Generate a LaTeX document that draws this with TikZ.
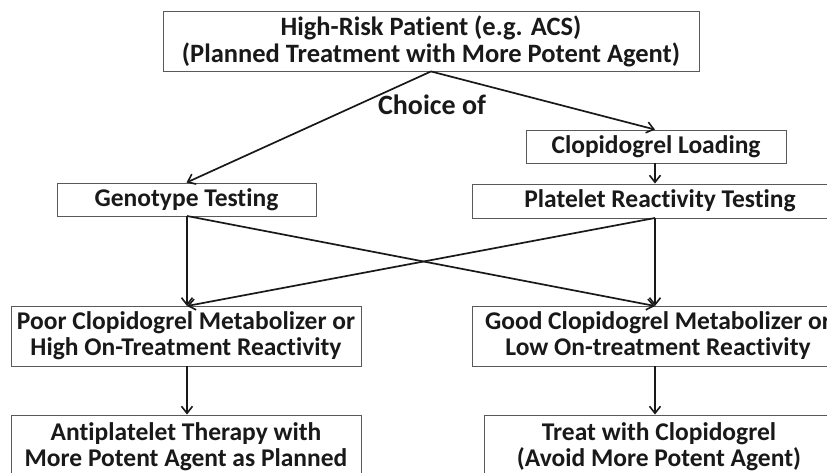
\documentclass[tikz,border=0pt]{standalone}
\usepackage{fontspec}
\setmainfont[Ligatures=NoCommon]{Carlito}
\usetikzlibrary{arrows.meta}
\tikzset{
  box/.style={draw=black!65, line width=0.9pt, rectangle, inner sep=0pt, align=center,
    font=\bfseries\fontsize{25.5}{26}\selectfont, text=black!90},
  topbox/.style={box, font=\bfseries\fontsize{26.5}{27}\selectfont},
  arr/.style={draw=black!90, line width=1.7pt, -{Straight Barb[length=7pt,width=11pt,line width=1.6pt]}},
  lbl/.style={font=\bfseries\fontsize{28}{30}\selectfont, inner sep=0pt, text=black!90}
}
\begin{document}
\begin{tikzpicture}[x=1pt,y=-1pt]
\useasboundingbox[fill=white] (0,0) rectangle (827,473);
\clip (0,0) rectangle (827,473);
\node[topbox, minimum width=536pt, minimum height=60pt] (top) at (431,41)
  {High-Risk Patient (e.g. ACS)\\(Planned Treatment with More Potent Agent)};
\node[lbl] (choice) at (432,105) {Choice of};
\node[box, minimum width=260pt, minimum height=33pt] (clop) at (656,146.5) {Clopidogrel Loading};
\node[box, minimum width=259pt, minimum height=33pt] (geno) at (186.5,199.5) {Genotype Testing};
\node[box, minimum width=376pt, minimum height=34pt] (plat) at (660,201) {Platelet Reactivity Testing};
\node[box, minimum width=350pt, minimum height=60pt] (poor) at (186,336)
  {Poor Clopidogrel Metabolizer or\\High On-Treatment Reactivity};
\node[box, minimum width=372pt, minimum height=60pt] (good) at (658,336)
  {Good Clopidogrel Metabolizer or\\Low On-treatment Reactivity};
\node[box, minimum width=350pt, minimum height=64pt] (anti) at (186,447)
  {Antiplatelet Therapy with\\More Potent Agent as Planned};
\node[box, minimum width=350pt, minimum height=64pt] (treat) at (659,447)
  {Treat with Clopidogrel\\(Avoid More Potent Agent)};
\coordinate (gout) at (187,216);
\coordinate (pout) at (655,218);
\coordinate (pin) at (187,306);
\coordinate (gin) at (655,306);
\draw[arr] (top.south) -- (geno.north);
\draw[arr] (top.south) -- (clop.north -| pout);
\draw[arr] (clop.south -| pout) -- (plat.north -| pout);
\draw[arr] (gout) -- (pin);
\draw[arr] (gout) -- (gin);
\draw[arr] (pout) -- (gin);
\draw[arr] (pout) -- (pin);
\draw[arr] (poor.south -| pin) -- (anti.north -| pin);
\draw[arr] (good.south -| gin) -- (treat.north -| gin);
\end{tikzpicture}
\end{document}
